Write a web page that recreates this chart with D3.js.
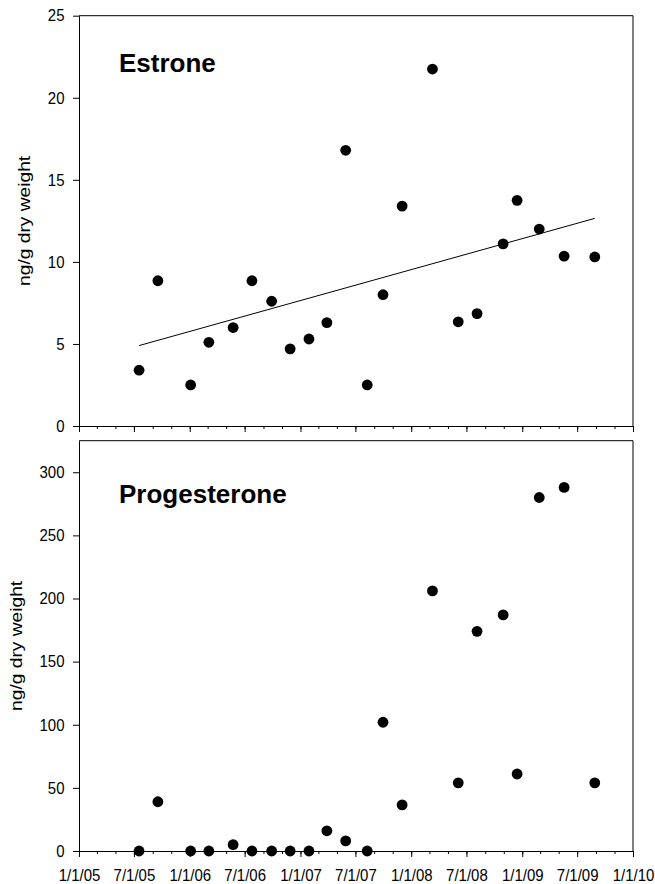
<!DOCTYPE html>
<html>
<head>
<meta charset="utf-8">
<script src="https://cdn.jsdelivr.net/npm/d3@7"></script>
<style>
  body { margin: 0; background: #fff; }
  svg { display: block; font-family: Arial, "Liberation Sans", sans-serif; }
  .domain, .tick line { stroke: #000; }
  .tick text { font-size: 15px; fill: #000; }
</style>
</head>
<body>
<svg width="655" height="884"></svg>
<script>
"use strict";

const sampleDates = [
  "2005-07-18", "2005-09-18", "2006-01-04", "2006-03-05", "2006-05-24",
  "2006-07-25", "2006-09-28", "2006-11-28", "2007-01-29", "2007-03-29",
  "2007-05-30", "2007-08-09", "2007-09-30", "2007-12-02", "2008-03-11",
  "2008-06-04", "2008-08-05", "2008-10-30", "2008-12-15", "2009-02-26",
  "2009-05-19", "2009-08-28"
];

// ng/g dry weight
const estrone = [
  3.4, 8.85, 2.5, 5.1, 6.0, 8.85, 7.6, 4.7, 5.3, 6.3, 16.8,
  2.5, 8.0, 13.4, 21.75, 6.35, 6.85, 11.1, 13.75, 12.0, 10.35, 10.3
];
const progesterone = [
  0, 39, 0, 0, 5, 0, 0, 0, 0, 16, 8,
  0, 102, 36.5, 206, 54, 174, 187, 61, 280, 288, 54
];

// regression line drawn on the estrone panel (end points)
const estroneTrendDates = ["2005-07-18", "2009-08-28"];
const estroneTrendValues = [4.9, 12.65];

const estroneTicks = [0, 5, 10, 15, 20, 25];
const progesteroneTicks = [0, 50, 100, 150, 200, 250, 300];

const parseDate = d3.timeParse("%Y-%m-%d");
const svg = d3.select("svg");

const x = d3.scaleTime()
  .domain([new Date(2005, 0, 1), new Date(2010, 0, 1)])
  .range([79, 633]);

function panel(cfg) {
  const y = d3.scaleLinear().domain(cfg.domain).range([cfg.bottom, cfg.top]);
  const g = svg.append("g");

  // frame: top and right edges
  g.append("path")
    .attr("d", `M${x.range()[0]},${cfg.top}H${x.range()[1]}V${cfg.bottom}`)
    .attr("fill", "none")
    .attr("stroke", "#000");

  // minor x ticks every 2 months
  g.append("g")
    .attr("transform", `translate(0,${cfg.bottom})`)
    .call(d3.axisBottom(x).ticks(d3.timeMonth.every(2)).tickSize(3).tickFormat(""))
    .call(a => a.select(".domain").remove());

  // major x ticks every 6 months
  const xAxis = d3.axisBottom(x)
    .ticks(d3.timeMonth.every(6))
    .tickSize(6)
    .tickSizeOuter(0)
    .tickPadding(10.5)
    .tickFormat(cfg.xLabels ? d3.timeFormat("%-m/%-d/%y") : "");
  g.append("g")
    .attr("transform", `translate(0,${cfg.bottom})`)
    .call(xAxis)
    .call(a => a.selectAll(".tick text").attr("transform", "scale(1,1.1)"));

  g.append("g")
    .attr("transform", `translate(${x.range()[0]},0)`)
    .call(d3.axisLeft(y).tickValues(cfg.ticks).tickSize(6).tickSizeOuter(0).tickPadding(8.5))
    .call(a => a.selectAll(".tick text").attr("transform", "scale(1,1.1)"));

  g.append("text")
    .attr("transform", `translate(${cfg.labelX},${(cfg.top + cfg.bottom) / 2}) rotate(-90) scale(1.2,1)`)
    .attr("text-anchor", "middle")
    .style("font-size", "16px")
    .text("ng/g dry weight");

  g.append("text")
    .attr("x", 119)
    .attr("y", cfg.titleY)
    .style("font-size", "26px")
    .style("font-weight", "bold")
    .text(cfg.title);

  if (cfg.trend) {
    const line = d3.line().x(d => x(d[0])).y(d => y(d[1]));
    const pts = cfg.trend.dates.map((d, i) => [parseDate(d), cfg.trend.values[i]]);
    g.append("path")
      .attr("d", line(pts))
      .attr("fill", "none")
      .attr("stroke", "#000")
      .attr("stroke-width", 1);
  }

  g.selectAll("circle")
    .data(cfg.values)
    .enter()
    .append("circle")
    .attr("cx", (d, i) => x(parseDate(sampleDates[i])))
    .attr("cy", d => y(d))
    .attr("r", 5.4)
    .attr("fill", "#000");
}

panel({
  title: "Estrone", titleY: 72,
  values: estrone, domain: [0, 25], ticks: estroneTicks,
  top: 15.7, bottom: 426, labelX: 29.5, xLabels: false,
  trend: { dates: estroneTrendDates, values: estroneTrendValues }
});

panel({
  title: "Progesterone", titleY: 503,
  values: progesterone, domain: [0, 325], ticks: progesteroneTicks,
  top: 440.7, bottom: 851, labelX: 21.5, xLabels: true
});
</script>
</body>
</html>
